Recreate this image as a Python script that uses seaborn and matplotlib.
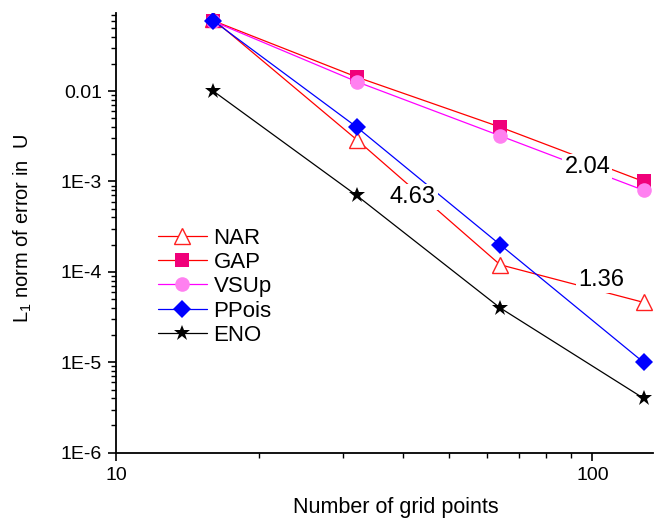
import matplotlib
matplotlib.use("Agg")
import matplotlib.pyplot as plt
from matplotlib.ticker import LogLocator, FixedLocator, FixedFormatter, NullFormatter
import numpy as np
import pandas as pd
import seaborn as sns

# Grid resolutions and L1 errors for each scheme
grid_points = [16, 32, 64, 128]
nar = [0.062, 0.0029, 1.2e-4, 4.6e-5]
gap = [0.060, 0.0143, 0.0040, 1.0e-3]
vsup = [0.059, 0.0127, 0.0032, 8.0e-4]
ppois = [0.060, 0.0040, 2.0e-4, 1.0e-5]
eno = [0.010, 7.0e-4, 4.0e-5, 4.0e-6]

series_names = ["NAR", "GAP", "VSUp", "PPois", "ENO"]
series_values = [nar, gap, vsup, ppois, eno]

# Convergence-rate labels placed along the curves
rate_labels = ["2.04", "4.63", "1.36"]
rate_x = [97.6, 41.9, 104.4]
rate_y = [1.44e-3, 6.7e-4, 8.1e-5]

y_tick_values = [1e-6, 1e-5, 1e-4, 1e-3, 1e-2]
y_tick_labels = ["1E-6", "1E-5", "1E-4", "1E-3", "0.01"]
x_tick_values = [10, 100]
x_tick_labels = ["10", "100"]

df = pd.DataFrame({
    "N": np.tile(grid_points, len(series_names)),
    "err": np.concatenate(series_values),
    "scheme": np.repeat(series_names, len(grid_points)),
})

styles = {
    "NAR":   dict(color="#ff0000", marker="^", ms=12, mfc="white", mec="#ff2020", mew=1.0),
    "GAP":   dict(color="#ff0000", marker="s", ms=9.5, mfc="#f0007a", mec="#f0007a", mew=0),
    "VSUp":  dict(color="#ff00ff", marker="o", ms=10.5, mfc="#ff80f0", mec="#ff80f0", mew=0),
    "PPois": dict(color="#0000ff", marker="D", ms=9, mfc="#0000ff", mec="#0000ff", mew=0),
    "ENO":   dict(color="#000000", marker="*", ms=12, mfc="#000000", mec="#000000", mew=0),
}

sns.set_style("ticks")
plt.rcParams["font.family"] = ["Liberation Sans", "DejaVu Sans"]
plt.rcParams["mathtext.fontset"] = "custom"
plt.rcParams["mathtext.rm"] = "Liberation Sans"
plt.rcParams["text.color"] = "black"
plt.rcParams["axes.labelcolor"] = "black"
plt.rcParams["xtick.color"] = "black"
plt.rcParams["ytick.color"] = "black"

fig = plt.figure(figsize=(6.54, 5.24), dpi=100)
ax = fig.add_axes([116 / 654, 1 - 452.7 / 524, (653 - 116) / 654, (452.7 - 13) / 524])

for name in series_names:
    st = styles[name]
    sub = df[df["scheme"] == name]
    sns.lineplot(data=sub, x="N", y="err", ax=ax, color=st["color"], lw=0.9,
                 marker=st["marker"], markersize=st["ms"], markerfacecolor=st["mfc"],
                 markeredgecolor=st["mec"], markeredgewidth=st["mew"], label=name,
                 estimator=None, sort=False)

ax.set_xscale("log")
ax.set_yscale("log")
ax.set_xlim(10, 134)
ax.set_ylim(1e-6, 0.073)

ax.xaxis.set_major_locator(FixedLocator(x_tick_values))
ax.xaxis.set_major_formatter(FixedFormatter(x_tick_labels))
ax.xaxis.set_minor_locator(LogLocator(base=10, subs=np.arange(2, 10)))
ax.xaxis.set_minor_formatter(NullFormatter())
ax.yaxis.set_major_locator(FixedLocator(y_tick_values))
ax.yaxis.set_major_formatter(FixedFormatter(y_tick_labels))
ax.yaxis.set_minor_locator(LogLocator(base=10, subs=np.arange(2, 10)))
ax.yaxis.set_minor_formatter(NullFormatter())

ax.tick_params(which="major", direction="out", length=6, width=1.2, labelsize=14,
               color="black", labelcolor="black", pad=4)
ax.tick_params(which="minor", direction="out", length=3.5, width=1.0, color="black")
for side in ["top", "right"]:
    ax.spines[side].set_visible(False)
for side in ["left", "bottom"]:
    ax.spines[side].set_linewidth(1.3)
    ax.spines[side].set_color("black")

ax.set_xlabel("Number of grid points", fontsize=15.5, color="black")
ax.set_ylabel(r"L$_1$ norm of error in  U", fontsize=14.5, color="black")
ax.xaxis.set_label_coords(0.521, -0.10)
ax.yaxis.set_label_coords(-0.152, 0.509)

for txt, xv, yv in zip(rate_labels, rate_x, rate_y):
    ax.text(xv, yv, txt, fontsize=17, ha="center", va="center", zorder=5,
            color="black", bbox=dict(facecolor="white", edgecolor="none", pad=1.5))

leg = ax.legend(loc="upper left", bbox_to_anchor=(0.078, 0.512), frameon=False,
                fontsize=16, handlelength=2.2, handletextpad=0.3, labelspacing=0.15,
                borderpad=0, borderaxespad=0)
for t in leg.get_texts():
    t.set_color("black")

fig.savefig("out.png", dpi=100)
